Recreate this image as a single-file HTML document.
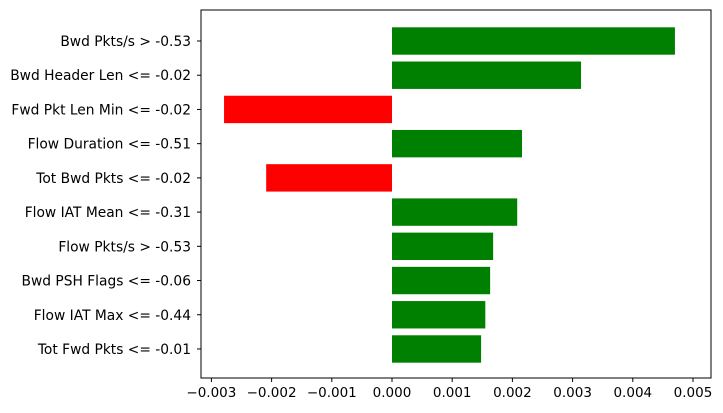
<!DOCTYPE html>
<html><head><meta charset="utf-8"><style>
body{margin:0;background:#fff;}
svg{display:block;font-family:"DejaVu Sans","Liberation Sans",sans-serif;}
</style></head><body>
<svg id="chart" width="723" height="413"></svg>
<script>
const categories=["Bwd Pkts/s > -0.53","Bwd Header Len <= -0.02","Fwd Pkt Len Min <= -0.02","Flow Duration <= -0.51","Tot Bwd Pkts <= -0.02","Flow IAT Mean <= -0.31","Flow Pkts/s > -0.53","Bwd PSH Flags <= -0.06","Flow IAT Max <= -0.44","Tot Fwd Pkts <= -0.01"];
const values=[0.0047,0.00314,-0.00279,0.00216,-0.00209,0.00208,0.00168,0.00163,0.00155,0.00148];
const tickValues=[-0.003,-0.002,-0.001,0,0.001,0.002,0.003,0.004,0.005];
const tickLabels=["−0.003","−0.002","−0.001","0.000","0.001","0.002","0.003","0.004","0.005"];

const NS="http://www.w3.org/2000/svg";
const svg=document.getElementById('chart');
const L=201,R=711,T=10,B=378;
const x=v=>392+v*60200;
const step=34.22;
const y=i=>41+i*step;
function mk(t,a){const e=document.createElementNS(NS,t);for(const k in a)e.setAttribute(k,a[k]);svg.appendChild(e);return e;}

values.forEach((v,i)=>{
  const r=mk('rect',{x:Math.min(x(0),x(v)),y:y(i)-13.7,width:Math.abs(x(v)-x(0)),height:27.4,fill:v>=0?'#008000':'#ff0000'});
  
  
  const t=mk('text',{x:L-10,y:y(i)+5,'text-anchor':'end','font-size':'13.8'});
  t.textContent=categories[i];
  
  
  mk('line',{x1:L-4,x2:L,y1:y(i),y2:y(i),stroke:'#000','stroke-width':1});
});
tickValues.forEach((v,i)=>{
  mk('line',{x1:x(v),x2:x(v),y1:B,y2:B+4,stroke:'#000','stroke-width':1});
  const t=mk('text',{x:x(v),y:B+19,'text-anchor':'middle','font-size':'13.5'});
  t.textContent=tickLabels[i];
  
  
});
const f=mk('rect',{x:L,y:T,width:R-L,height:B-T,fill:'none',stroke:'#000','stroke-width':1});


</script>
</body></html>
